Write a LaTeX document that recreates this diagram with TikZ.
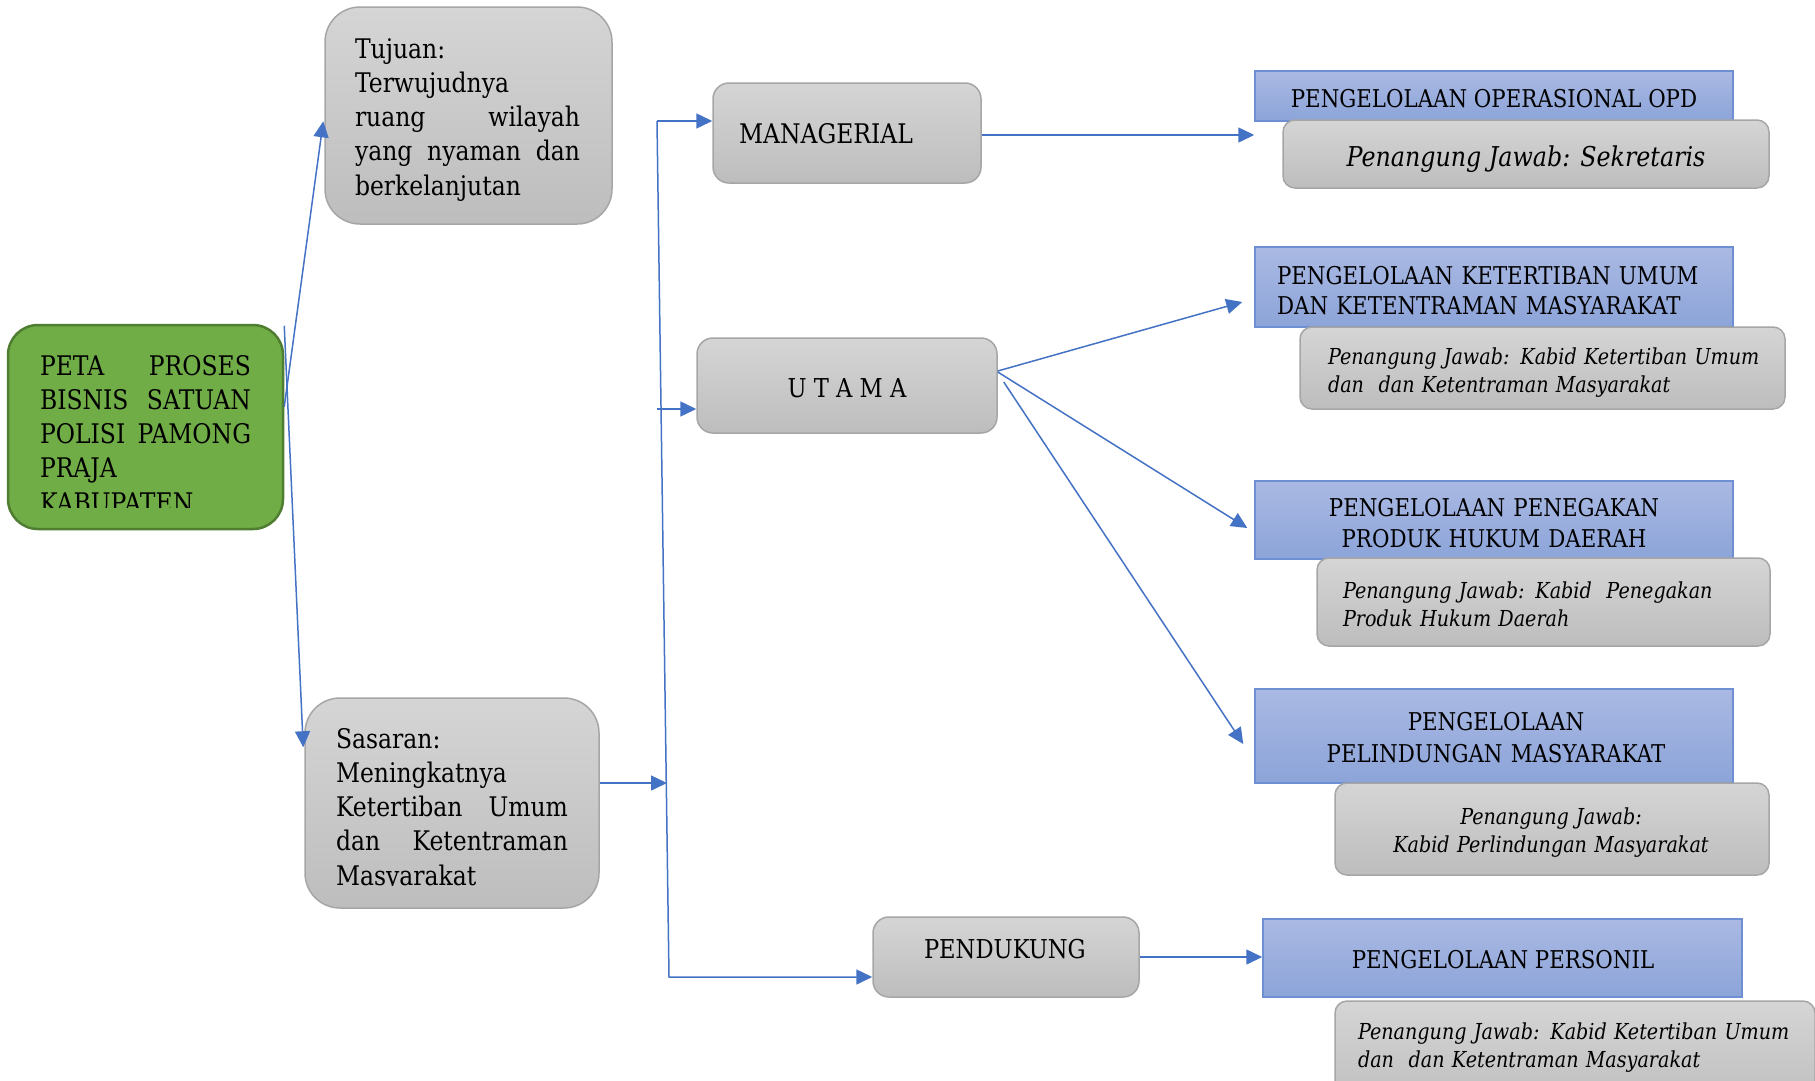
\documentclass[tikz,border=0pt]{standalone}
\usepackage{fontspec}
\setmainfont{DejaVu Serif}[FakeStretch=0.87]
\usetikzlibrary{arrows.meta,calc}
\definecolor{arrblue}{HTML}{4472C4}
\definecolor{grayedge}{HTML}{A6A6A6}
\definecolor{graytop}{HTML}{D5D5D5}
\definecolor{graybot}{HTML}{BDBDBD}
\definecolor{blueedge}{HTML}{6E8FD2}
\definecolor{bluetop}{HTML}{AAB9E3}
\definecolor{bluebot}{HTML}{8CA4D9}
\definecolor{greenfill}{HTML}{70AD47}
\definecolor{greenedge}{HTML}{4F7D31}
\newcommand{\jl}[2]{\makebox[#1]{#2}}
\begin{document}
\begin{tikzpicture}[x=1pt,y=-1pt,
  arr/.style={draw=arrblue, line width=1.5pt, -{Triangle[length=16pt,width=15pt]}},
  graybox/.style={draw=grayedge, line width=1.5pt, top color=graytop, bottom color=graybot, inner sep=0pt},
  bluebox/.style={draw=blueedge, line width=1.5pt, top color=bluetop, bottom color=bluebot, inner sep=0pt, rounded corners=0pt},
  greenbox/.style={draw=greenedge, line width=2.5pt, fill=greenfill, inner sep=0pt, rounded corners=30pt},
  txt/.style={inner sep=0pt, outer sep=0pt, text=black},
  bigf/.style={font=\fontsize{27}{34.3}\selectfont},
  midf/.style={font=\fontsize{26}{30}\selectfont},
  bluef/.style={font=\fontsize{24.5}{30}\selectfont},
  smallf/.style={font=\fontsize{22}{28}\selectfont\itshape},
]
\fill[white] (0,0) rectangle (1815,1080);
\useasboundingbox (0,0) rectangle (1815,1080);

% left column
\node[greenbox, minimum width=275pt, minimum height=204pt] (green) at (145.5,427) {};
\node[graybox, rounded corners=35pt, minimum width=287pt, minimum height=217pt] (tujuan) at (468.5,115.5) {};
\node[graybox, rounded corners=35pt, minimum width=294pt, minimum height=210pt] (sasaran) at (452,803) {};

\begin{scope}
\clip (25,330) rectangle (270,507);
\node[txt, bigf, text width=211pt, align=left, anchor=base west] (greentext) at (40,375)
  {\jl{211pt}{PETA\hfill PROSES}\\\jl{211pt}{BISNIS\hfill SATUAN}\\\jl{211pt}{POLISI\hfill PAMONG}\\PRAJA\\KABUPATEN};
\end{scope}
\node[txt, bigf, text width=225pt, align=left, anchor=base west] (tujuantext) at (355,58)
  {Tujuan:\\Terwujudnya\\\jl{225pt}{ruang\hfill wilayah}\\\jl{225pt}{yang\hfill nyaman\hfill dan}\\berkelanjutan};
\begin{scope}
\clip (310,705) rectangle (595,885.5);
\node[txt, bigf, text width=232pt, align=left, anchor=base west] (sasarantext) at (336,748)
  {Sasaran:\\Meningkatnya\\\jl{232pt}{Ketertiban\hfill Umum}\\\jl{232pt}{dan\hfill Ketentraman}\\Masyarakat};
\end{scope}

% middle column
\node[graybox, rounded corners=16pt, minimum width=268pt, minimum height=100pt] (mgr) at (847,133) {};
\node[graybox, rounded corners=16pt, minimum width=300pt, minimum height=95pt] (utama) at (847,385.5) {};
\node[graybox, rounded corners=16pt, minimum width=266pt, minimum height=80pt] (pend) at (1006,957) {};
\node[txt, font=\fontsize{27}{30}\selectfont, anchor=base west] (mgrtext) at (739,143) {MANAGERIAL};
\node[txt, midf, anchor=base] (utamatext) at (847,397) {U T A M A};
\node[txt, midf, anchor=base west] (pendtext) at (924,958) {PENDUKUNG};

% right column: blue boxes
\node[bluebox, minimum width=478pt, minimum height=50pt] (blue1) at (1494,96) {};
\node[bluebox, minimum width=478pt, minimum height=80pt] (blue2) at (1494,287) {};
\node[bluebox, minimum width=478pt, minimum height=78pt] (blue3) at (1494,520) {};
\node[bluebox, minimum width=478pt, minimum height=94pt] (blue4) at (1494,736) {};
\node[bluebox, minimum width=479pt, minimum height=78pt] (blue5) at (1502.5,958) {};

% right column: gray boxes
\node[graybox, rounded corners=12pt, minimum width=486pt, minimum height=68pt] (gray1) at (1526,154) {};
\node[graybox, rounded corners=12pt, minimum width=485pt, minimum height=82pt] (gray2) at (1542.5,368) {};
\node[graybox, rounded corners=12pt, minimum width=453pt, minimum height=88pt] (gray3) at (1543.5,602) {};
\node[graybox, rounded corners=12pt, minimum width=434pt, minimum height=92pt] (gray4) at (1552,829) {};
\node[graybox, rounded corners=12pt, minimum width=480pt, minimum height=110pt] (gray5) at (1575,1056) {};

% blue texts
\node[txt, bluef, anchor=base] (b1text) at (1494,107) {PENGELOLAAN OPERASIONAL OPD};
\node[txt, bluef, text width=440pt, align=left, anchor=base west] (b2text) at (1277,284)
  {PENGELOLAAN KETERTIBAN UMUM\\DAN KETENTRAMAN MASYARAKAT};
\node[txt, font=\fontsize{24.5}{31}\selectfont, text width=440pt, align=center, anchor=base] (b3text) at (1494,516)
  {PENGELOLAAN PENEGAKAN\\PRODUK HUKUM DAERAH};
\node[txt, font=\fontsize{24.5}{32}\selectfont, text width=440pt, align=center, anchor=base] (b4text) at (1496,730)
  {PENGELOLAAN\\PELINDUNGAN MASYARAKAT};
\node[txt, bluef, anchor=base] (b5text) at (1503,968) {PENGELOLAAN PERSONIL};

% gray texts
\node[txt, font=\fontsize{27.3}{32}\selectfont\itshape, anchor=base] (g1text) at (1526,166) {Penangung Jawab: Sekretaris};
\node[txt, smallf, text width=450pt, align=left, anchor=base west] (g2text) at (1328,364)
  {Penangung Jawab: Kabid Ketertiban Umum\\dan~ dan Ketentraman Masyarakat};
\node[txt, smallf, text width=420pt, align=left, anchor=base west] (g3text) at (1343,598)
  {Penangung Jawab: Kabid~ Penegakan\\Produk Hukum Daerah};
\node[txt, smallf, text width=420pt, align=center, anchor=base] (g4text) at (1551,824)
  {Penangung Jawab:\\Kabid Perlindungan Masyarakat};
\node[txt, smallf, text width=450pt, align=left, anchor=base west] (g5text) at (1358,1039)
  {Penangung Jawab: Kabid Ketertiban Umum\\dan~ dan Ketentraman Masyarakat};

% connectors
\coordinate (vtop) at (657,121);
\coordinate (vbot) at (669,977);
\coordinate (ustart) at (657,409);
\coordinate (vmid) at (667,783);

\draw[arr] ($(green.north east)+(0,83)$) -- ($(tujuan.north west)+(-1,115)$);
\draw[arr] ($(green.north east)+(0,2)$) -- ($(sasaran.north west)+(-1,50)$);
\draw[arr] ($(sasaran.east)+(0,-20)$) -- (vmid);
\draw[arr] (vtop) -- (vtop -| mgr.west);
\draw[arr] (vtop) -- (vbot) -- (vbot -| pend.west);
\draw[arr] (ustart) -- (ustart -| utama.west);
\draw[arr] ($(mgr.east)+(0,2)$) -- ($(mgr.east -| blue1.west)+(0,2)$);
\draw[arr] ($(utama.east)+(0,-14.5)$) -- ($(blue2.west)+(-12,15)$);
\draw[arr] ($(utama.east)+(0,-13.5)$) -- ($(blue3.west)+(-7,8)$);
\draw[arr] ($(utama.east)+(6,-3.5)$) -- ($(blue4.west)+(-11,8)$);
\draw[arr] (pend.east) -- (pend.east -| blue5.west);
\end{tikzpicture}
\end{document}
